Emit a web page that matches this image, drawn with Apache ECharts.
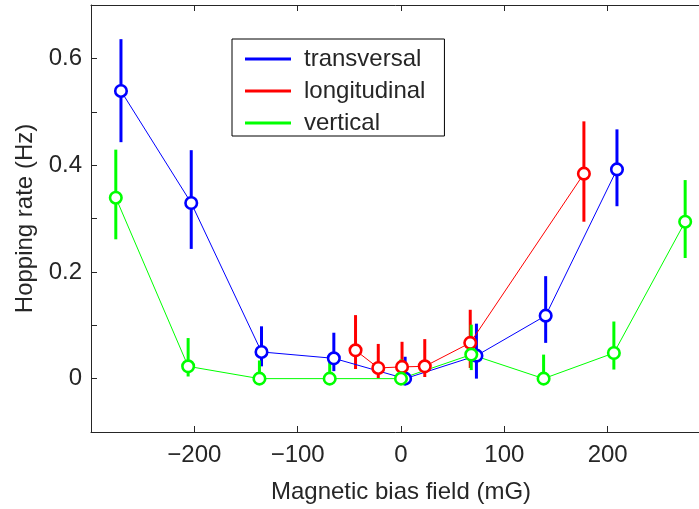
<!DOCTYPE html>
<html>
<head>
<meta charset="utf-8">
<script src="https://cdn.jsdelivr.net/npm/echarts@6/dist/echarts.min.js"></script>
<style>
html,body{margin:0;padding:0;background:#fff;}
#chart{width:699px;height:509px;}
</style>
</head>
<body>
<div id="chart"></div>
<script>
// ---- data ----
const seriesNames = ['transversal', 'longitudinal', 'vertical'];

const transX  = [-271, -203, -135, -65, 4, 73, 140, 209];
const transY  = [0.539, 0.329, 0.050, 0.038, 0.000, 0.043, 0.118, 0.392];
const transLo = [0.443, 0.243, 0.023, 0.014, 0.000, 0.000, 0.067, 0.323];
const transHi = [0.636, 0.428, 0.098, 0.086, 0.041, 0.103, 0.192, 0.467];

const longX  = [-44, -22, 1, 23, 67, 177];
const longY  = [0.053, 0.020, 0.022, 0.023, 0.067, 0.384];
const longLo = [0.018, 0.001, 0.004, 0.003, 0.020, 0.294];
const longHi = [0.119, 0.065, 0.069, 0.074, 0.129, 0.482];

const vertX  = [-276, -206, -137, -69, 0, 68, 138, 206, 275];
const vertY  = [0.339, 0.023, 0.000, 0.000, 0.000, 0.045, 0.000, 0.048, 0.294];
const vertLo = [0.261, 0.004, 0.000, 0.000, 0.000, 0.016, 0.000, 0.017, 0.226];
const vertHi = [0.429, 0.076, 0.034, 0.045, 0.036, 0.101, 0.045, 0.107, 0.372];

const xTickLabels = ['\u2212200', '\u2212100', '0', '100', '200'];
const xTickValues = [-200, -100, 0, 100, 200];
const yTickLabels = ['0', '0.2', '0.4', '0.6'];
const yTickValues = [0, 0.2, 0.4, 0.6];

const colors = ['#0000ff', '#ff0000', '#00ff00'];
const FONT = '"Liberation Sans", Arial, Helvetica, sans-serif';
const TXT = '#262626';

function zip2(a, b) { return a.map((v, i) => [v, b[i]]); }
function zip3(a, b, c) { return a.map((v, i) => [v, b[i], c[i]]); }

function errSeries(name, color, data) {
  return {
    type: 'custom',
    name: name + ' error',
    xAxisIndex: 0, yAxisIndex: 0,
    clip: true,
    encode: { x: 0, y: [1, 2] },
    data: data,
    renderItem: function (params, api) {
      const x = api.value(0);
      const p1 = api.coord([x, api.value(1)]);
      const p2 = api.coord([x, api.value(2)]);
      return {
        type: 'line',
        shape: { x1: p1[0], y1: p1[1], x2: p2[0], y2: p2[1] },
        style: { stroke: color, lineWidth: 3, lineCap: 'butt' }
      };
    }
  };
}
function lineSeries(name, color, data) {
  return {
    type: 'line',
    name: name,
    xAxisIndex: 0, yAxisIndex: 0,
    data: data,
    symbol: 'circle',
    symbolSize: 11.5,
    showAllSymbol: true,
    lineStyle: { color: color, width: 1 },
    itemStyle: { color: '#ffffff', borderColor: color, borderWidth: 2.6 },
    emphasis: { disabled: true },
    clip: true
  };
}

const allX = [transX, longX, vertX];
const allY = [transY, longY, vertY];
const allLo = [transLo, longLo, vertLo];
const allHi = [transHi, longHi, vertHi];

const series = [];
for (let i = 0; i < 3; i++) {
  series.push(errSeries(seriesNames[i], colors[i], zip3(allX[i], allLo[i], allHi[i])));
  series.push(lineSeries(seriesNames[i], colors[i], zip2(allX[i], allY[i])));
}

const chart = echarts.init(document.getElementById('chart'), null, { renderer: 'canvas' });
chart.setOption({
  animation: false,
  backgroundColor: '#ffffff',
  textStyle: { fontFamily: FONT },
  grid: { left: 91, top: 5, width: 620, height: 427, containLabel: false, outerBoundsMode: 'none' },
  legend: {
    orient: 'vertical',
    left: 232, top: 39,
    padding: [8, 19, 1, 13],
    itemGap: 8,
    itemWidth: 46,
    itemHeight: 3,
    borderColor: '#000000',
    borderWidth: 1,
    borderRadius: 0,
    backgroundColor: '#ffffff',
    selectedMode: false,
    textStyle: { fontFamily: FONT, fontSize: 24, color: TXT, lineHeight: 24, padding: [0, 0, 0, 8] },
    data: seriesNames.map((n, i) => ({ name: n, icon: 'rect', itemStyle: { color: colors[i], borderWidth: 0 } }))
  },
  xAxis: [{
    type: 'value',
    position: 'bottom',
    min: -300, max: 300, interval: 100,
    name: 'Magnetic bias field (mG)',
    nameLocation: 'middle',
    nameGap: 48,
    nameTextStyle: { fontFamily: FONT, fontSize: 24, color: TXT },
    axisLine: { show: true, onZero: false, lineStyle: { color: TXT, width: 1 } },
    axisTick: { show: true, inside: true, length: 6, lineStyle: { color: TXT } },
    axisLabel: {
      margin: 11, fontFamily: FONT, fontSize: 24, color: TXT,
      formatter: function (v) { const k = xTickValues.indexOf(Math.round(v)); return k >= 0 ? xTickLabels[k] : ''; }
    },
    splitLine: { show: false }
  }, {
    type: 'value',
    position: 'top',
    min: -300, max: 300, interval: 100,
    axisLine: { show: true, onZero: false, lineStyle: { color: TXT, width: 1 } },
    axisTick: { show: true, inside: true, length: 6, lineStyle: { color: TXT } },
    axisLabel: { show: false },
    splitLine: { show: false }
  }],
  yAxis: [{
    type: 'value',
    min: -0.1, max: 0.7, interval: 0.1,
    name: 'Hopping rate (Hz)',
    nameLocation: 'middle',
    nameGap: 53,
    nameTextStyle: { fontFamily: FONT, fontSize: 24, color: TXT },
    axisLine: { show: true, onZero: false, lineStyle: { color: TXT, width: 1 } },
    axisTick: { show: true, inside: true, length: 6, lineStyle: { color: TXT } },
    axisLabel: {
      margin: 9, fontFamily: FONT, fontSize: 24, color: TXT,
      formatter: function (v) {
        const r = Math.round(v * 10) / 10;
        const k = yTickValues.findIndex(t => Math.abs(t - r) < 1e-9);
        return k >= 0 ? yTickLabels[k] : '';
      }
    },
    splitLine: { show: false }
  }],
  series: series
});
</script>
</body>
</html>
